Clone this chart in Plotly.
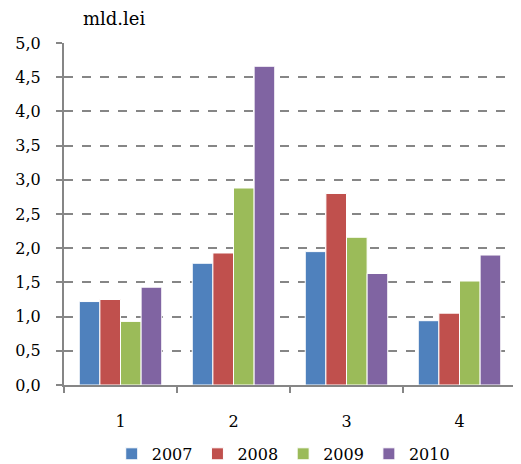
import plotly.graph_objects as go

categories = ["1", "2", "3", "4"]
series_names = ["2007", "2008", "2009", "2010"]
v2007 = [1.22, 1.78, 1.95, 0.94]
v2008 = [1.25, 1.93, 2.80, 1.05]
v2009 = [0.93, 2.88, 2.16, 1.52]
v2010 = [1.43, 4.66, 1.63, 1.90]
colors = ["#4F81BD", "#C0504D", "#9BBB59", "#8064A2"]
y_ticks = [0, 0.5, 1, 1.5, 2, 2.5, 3, 3.5, 4, 4.5, 5]

font_family = "DejaVu Serif"
fs = 16

fig = go.Figure()
for name, vals, col in zip(series_names, [v2007, v2008, v2009, v2010], colors):
    fig.add_trace(go.Bar(
        x=categories, y=vals, name=name,
        marker=dict(color=col, line=dict(color="white", width=1)),
    ))

fig.update_layout(
    width=521, height=464,
    margin=dict(l=56, r=13, t=35, b=87, autoexpand=False),
    paper_bgcolor="white", plot_bgcolor="white",
    barmode="group", bargap=0.27, bargroupgap=0,
    separators=",.",
    font=dict(family=font_family, size=fs, color="black"),
    showlegend=True,
    legend=dict(orientation="h", x=0.485, xanchor="center", yref="container",
                y=0.039, yanchor="middle",
                font=dict(family=font_family, size=fs), itemwidth=30, tracegroupgap=0),
    xaxis=dict(type="category", showline=True, linecolor="#868686", linewidth=2,
               ticks="outside", tickson="boundaries", ticklen=6, tickcolor="#868686",
               tickwidth=2, showgrid=False, tickfont=dict(family=font_family, size=fs),
               ticklabelstandoff=21),
    yaxis=dict(range=[0, 5], tickvals=y_ticks, tickformat=".1f", showline=True,
               linecolor="#868686", linewidth=2, ticks="outside", ticklen=6,
               tickcolor="#868686", tickwidth=2, showgrid=True, gridcolor="#868686",
               griddash="dash", gridwidth=2, zeroline=False, ticklabelstandoff=12,
               tickfont=dict(family=font_family, size=fs)),
    annotations=[dict(text="mld.lei", xref="paper", yref="paper", x=0.11, y=1.0,
                      xanchor="center", yanchor="bottom", yshift=12, showarrow=False,
                      font=dict(family=font_family, size=18))],
)

fig.write_html("out.html")
